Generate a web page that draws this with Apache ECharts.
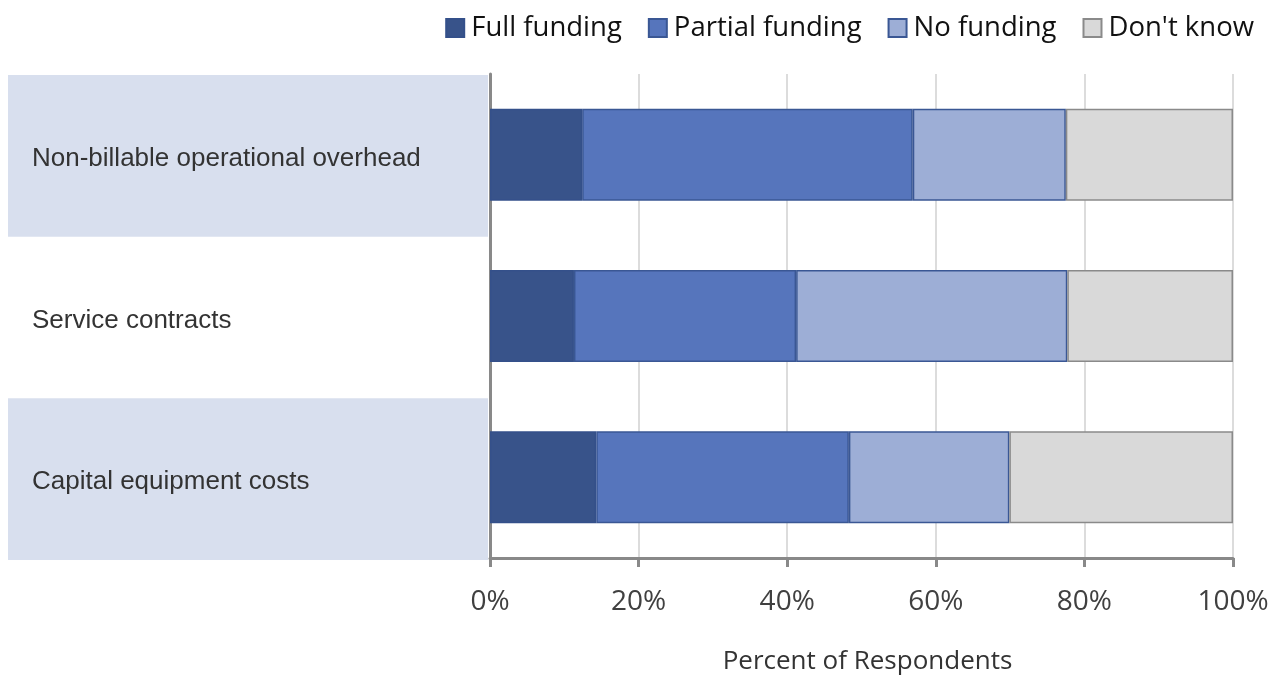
<!DOCTYPE html>
<html>
<head>
<meta charset="utf-8">
<script src="https://cdn.jsdelivr.net/npm/echarts@6/dist/echarts.min.js"></script>
<style>html,body{margin:0;padding:0;background:#fff}#c{width:1281px;height:677px}</style>
</head>
<body>
<div id="c"></div>
<script>
const categories = ['Non-billable operational overhead', 'Service contracts', 'Capital equipment costs'];
const seriesNames = ['Full funding', 'Partial funding', 'No funding', "Don't know"];
const fullFunding = [12.4, 11.3, 14.3];
const partialFunding = [44.5, 29.9, 34.0];
const noFunding = [20.6, 36.5, 21.6];
const dontKnow = [22.5, 22.3, 30.1];
const xTickLabels = ['0%', '20%', '40%', '60%', '80%', '100%'];

const fills = ['#38538a', '#5675bc', '#9daed6', '#d9d9d9'];
const borders = ['#34508a', '#3a5794', '#3a5794', '#8a8a8a'];
const values = [fullFunding, partialFunding, noFunding, dontKnow];

const chart = echarts.init(document.getElementById('c'), null, {renderer: 'canvas'});
chart.setOption({
  animation: false,
  backgroundColor: '#fff',
  legend: {
    top: 9, right: 22,
    itemWidth: 18, itemHeight: 18, itemGap: 26,
    icon: 'rect',
    textStyle: {fontFamily: 'Open Sans', fontSize: 27.5, color: '#111', padding: [0, 0, 0, 2]},
    data: seriesNames
  },
  grid: [
    {left: 490, right: 48, top: 74, height: 484, containLabel: false, outerBoundsMode: 'none'},
    {left: 8, width: 480, top: 75, height: 485, containLabel: false, outerBoundsMode: 'none'}
  ],
  xAxis: [
    {
      type: 'value', gridIndex: 0, min: 0, max: 100, interval: 20,
      name: 'Percent of Respondents', nameLocation: 'middle', nameGap: 91,
      nameTextStyle: {fontFamily: 'Open Sans', fontSize: 26, color: '#333', padding: [0, 0, 0, 12]},
      axisLine: {show: true, lineStyle: {color: '#898989', width: 3}},
      axisTick: {show: true, length: 9, lineStyle: {color: '#898989', width: 3}},
      axisLabel: {
        margin: 30, fontFamily: 'Open Sans', fontSize: 28, color: '#404040',
        formatter: (v) => xTickLabels[Math.round(v / 20)]
      },
      splitLine: {show: true, lineStyle: {color: '#dcdcdc', width: 2}}
    },
    {type: 'value', gridIndex: 1, min: 0, max: 100, show: false}
  ],
  yAxis: [
    {
      type: 'category', gridIndex: 0, inverse: true, data: categories,
      axisLine: {show: true, lineStyle: {color: '#898989', width: 3}},
      axisTick: {show: false},
      axisLabel: {
        align: 'left', margin: 458,
        formatter: (v) => '{a|' + v + '}',
        rich: {a: {fontFamily: 'Liberation Sans', fontSize: 26, color: '#333', padding: [9, 0, 0, 0]}}
      },
      splitLine: {show: false}
    },
    {
      type: 'category', gridIndex: 1, inverse: true, data: categories,
      axisLine: {show: false}, axisTick: {show: false}, axisLabel: {show: false},
      splitArea: {show: true, areaStyle: {color: ['#d8dfee', 'rgba(255,255,255,0)']}}
    }
  ],
  series: seriesNames.map((name, i) => ({
    name: name, type: 'bar', stack: 'total',
    xAxisIndex: 0, yAxisIndex: 0,
    barWidth: 92,
    data: values[i],
    itemStyle: {color: fills[i], borderColor: borders[i], borderWidth: 1.5}
  }))
});
</script>
</body>
</html>
